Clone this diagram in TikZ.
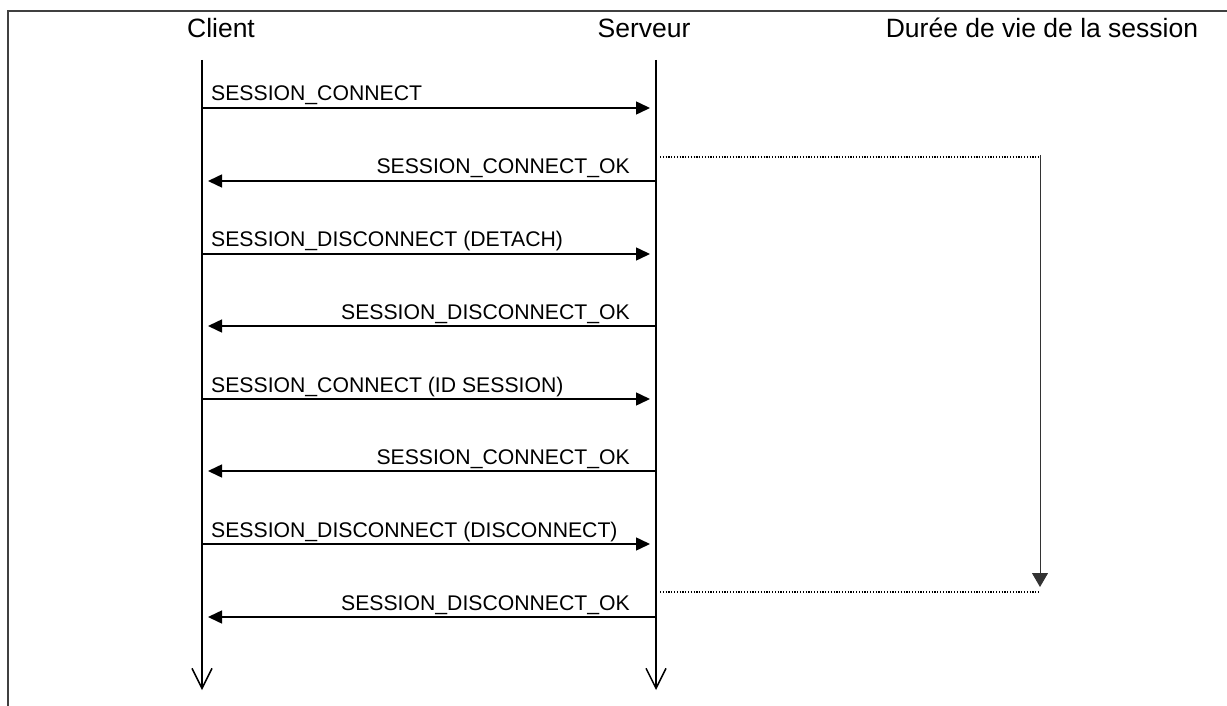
\documentclass[tikz,border=0pt]{standalone}
\usepackage{fontspec}
\setmainfont{Liberation Sans}
\usetikzlibrary{arrows.meta}
\begin{document}
\begin{tikzpicture}[x=1pt,y=-1pt,
 header/.style={font=\fontsize{26.5}{31}\selectfont, anchor=base, inner sep=0pt},
 lbl/.style={font=\fontsize{21.2}{25}\selectfont, inner sep=0pt},
 lifeline/.style={line width=2pt, -{Straight Barb[length=20pt,width=20pt,line width=1.5pt]}},
 msg/.style={line width=1.5pt, -{Triangle[length=14pt,width=13pt]}, shorten >=6pt},
 lifespan/.style={line width=1pt, black!80, -{Triangle[length=14pt,width=16pt]}},
 dots/.style={line width=1.2pt, dash pattern=on 1.2pt off 1.6pt},
 frameline/.style={line width=1.5pt, black!75},
]
\useasboundingbox (0,0) rectangle (1227,706);
\draw[frameline] (1227,11) -- (8,11) -- (8,706);

\node[header] (hc) at (221,38) {Client};
\node[header] (hs) at (644,38) {Serveur};
\node[header] (hl) at (1042,38) {Durée de vie de la session};

\coordinate (ct) at (202,60);
\coordinate (cb) at (202,690);
\coordinate (st) at (656,60);
\coordinate (sb) at (656,690);
\draw[lifeline] (ct) -- (cb);
\draw[lifeline] (st) -- (sb);

\foreach \i/\y in {1/108,2/181,3/254,4/326,5/399,6/471,7/544,8/617}{
  \coordinate (c\i) at (202,\y);
  \coordinate (s\i) at (656,\y);
}

\draw[msg] (c1) -- (s1);
\draw[msg] (s2) -- (c2);
\draw[msg] (c3) -- (s3);
\draw[msg] (s4) -- (c4);
\draw[msg] (c5) -- (s5);
\draw[msg] (s6) -- (c6);
\draw[msg] (c7) -- (s7);
\draw[msg] (s8) -- (c8);

\node[lbl, anchor=base west] (m1) at (211,101) {SESSION\_CONNECT};
\node[lbl, anchor=base east] (m2) at (630,174) {SESSION\_CONNECT\_OK};
\node[lbl, anchor=base west] (m3) at (211,247) {SESSION\_DISCONNECT (DETACH)};
\node[lbl, anchor=base east] (m4) at (630,319) {SESSION\_DISCONNECT\_OK};
\node[lbl, anchor=base west] (m5) at (211,392) {SESSION\_CONNECT (ID SESSION)};
\node[lbl, anchor=base east] (m6) at (630,464) {SESSION\_CONNECT\_OK};
\node[lbl, anchor=base west] (m7) at (211,537) {SESSION\_DISCONNECT (DISCONNECT)};
\node[lbl, anchor=base east] (m8) at (630,610) {SESSION\_DISCONNECT\_OK};

\coordinate (l1) at (660,157);
\coordinate (l2) at (1040,157);
\coordinate (l3) at (1040,155);
\coordinate (l4) at (1040,587);
\coordinate (l5) at (660,592);
\coordinate (l6) at (1040,592);
\draw[dots] (l1) -- (l2);
\draw[lifespan] (l3) -- (l4);
\draw[dots] (l5) -- (l6);
\end{tikzpicture}
\end{document}
